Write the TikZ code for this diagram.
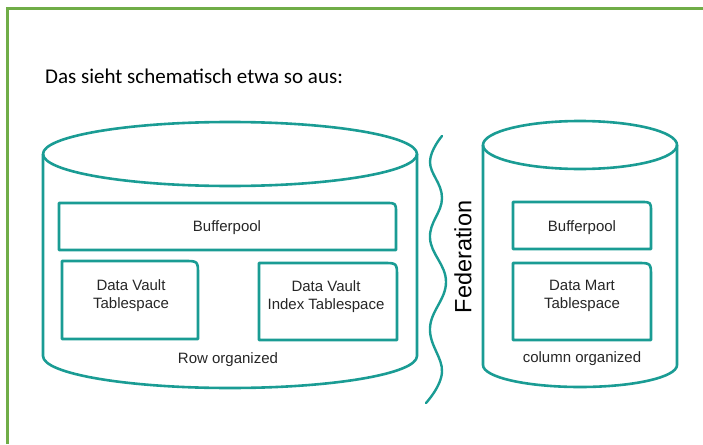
\documentclass[tikz,border=0pt]{standalone}
\usepackage{fontspec}
\setmainfont{Carlito}
\newfontfamily\arialf{Liberation Sans}
\definecolor{tealc}{HTML}{1A9C94}
\definecolor{frameg}{HTML}{70AD47}
\begin{document}
\begin{tikzpicture}[x=1pt,y=-1pt,
  outl/.style={draw=tealc, line width=2.6pt, line join=round},
  lbl/.style={font=\arialf\fontsize{15}{18}\selectfont, align=center, text=black!85, inner sep=0pt},
  titl/.style={font=\fontsize{21}{25}\selectfont, anchor=base west, inner sep=0pt, text=black}]
\useasboundingbox (0,0) rectangle (703,444);
% frame
\draw[frameg, line width=3pt] (7,444) -- (7,9) -- (703,9);
\node[titl] (title) at (45,83) {Das sieht schematisch etwa so aus:};
% left cylinder
\draw[outl] (230,154) ellipse [x radius=187, y radius=32];
\draw[outl] (43,154) -- (43,356) .. controls (43,373.7) and (126.7,388) .. (230,388)
  .. controls (333.3,388) and (417,373.7) .. (417,356) -- (417,154);
% right cylinder
\draw[outl] (580,145) ellipse [x radius=97, y radius=24];
\draw[outl] (483,145) -- (483,365) .. controls (483,377.2) and (526.4,387) .. (580,387)
  .. controls (633.6,387) and (677,377.2) .. (677,365) -- (677,145);
% left bufferpool
\draw[outl] (59,250) -- (59,203) -- (386,203) .. controls (396,203) .. (396,213) -- (396,250) -- cycle;
\node[lbl] (lbuf) at (227,228) {Bufferpool};
% data vault tablespace
\draw[outl] (62,339) -- (62,261) -- (184,261) .. controls (198,261) .. (198,275) -- (198,339) -- cycle;
\node[lbl] (dvt) at (131,296) {Data Vault\\Tablespace};
% data vault index tablespace
\draw[outl] (259,340) -- (259,263) -- (383,263) .. controls (397,263) .. (397,277) -- (397,340) -- cycle;
\node[lbl] (dvi) at (326,297) {Data Vault\\Index Tablespace};
\node[lbl] (row) at (228,360) {Row organized};
% right bufferpool
\draw[outl] (513,249) -- (513,202) -- (641,202) .. controls (651,202) .. (651,212) -- (651,249) -- cycle;
\node[lbl] (rbuf) at (582,228) {Bufferpool};
% data mart tablespace
\draw[outl] (513,340) -- (513,263) -- (637,263) .. controls (651,263) .. (651,277) -- (651,340) -- cycle;
\node[lbl] (dmt) at (582,296) {Data Mart\\Tablespace};
\node[lbl] (col) at (582,359) {column organized};
% federation
\node[font=\arialf\fontsize{23.5}{28}\selectfont, rotate=90, inner sep=0pt, text=black] (fed) at (463,257) {Federation};
\draw[draw=tealc, line width=2.4pt, line cap=round] plot[smooth, tension=0.7] coordinates
  {(442,136) (430,162) (442,198) (430,238) (446,282) (430,328) (442,372) (426,403)};
\end{tikzpicture}
\end{document}
